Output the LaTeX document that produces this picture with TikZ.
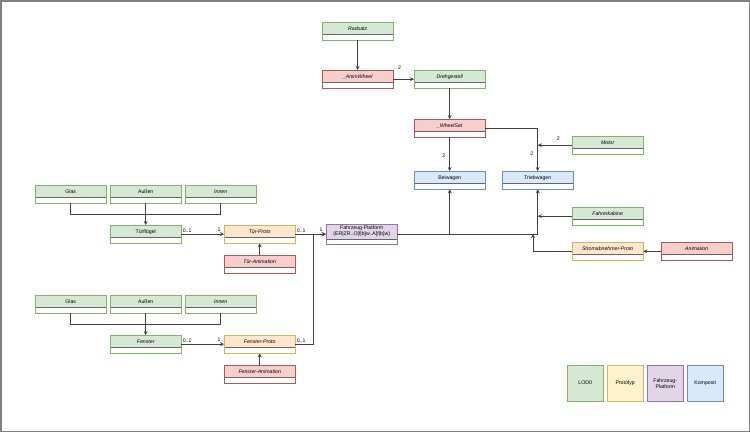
\documentclass[tikz,border=0pt]{standalone}
\usepackage{fontspec}
\setmainfont{Liberation Sans}
\usetikzlibrary{arrows.meta,positioning}
\definecolor{greenfill}{HTML}{D5E8D4}\definecolor{greenline}{HTML}{82B366}
\definecolor{redfill}{HTML}{F8CECC}\definecolor{redline}{HTML}{B85450}
\definecolor{protofill}{HTML}{FFE6CC}\definecolor{protoline}{HTML}{D6B656}
\definecolor{yellowfill}{HTML}{FFF2CC}\definecolor{yellowline}{HTML}{D6B656}
\definecolor{purplefill}{HTML}{E1D5E7}\definecolor{purpleline}{HTML}{9673A6}
\definecolor{bluefill}{HTML}{DAE8FC}\definecolor{blueline}{HTML}{6C8EBF}
\tikzset{
  cls/.style={draw=#1line, fill=white, anchor=north west, minimum width=71pt,
    inner xsep=0pt, inner ysep=0pt, text height=8pt, text depth=10pt,
    font=\fontsize{5.2}{6}\selectfont,
    path picture={
      \fill[#1fill] (path picture bounding box.north west) rectangle ([yshift=-12pt]path picture bounding box.north east);
      \draw[black!60, line width=1.2pt] ([yshift=-12.6pt]path picture bounding box.north west) -- ([yshift=-12.6pt]path picture bounding box.north east);
    }},
  abstr/.style={cls=#1, font=\fontsize{5.2}{6}\selectfont\itshape},
  platform/.style={draw=purpleline, fill=white, anchor=north west, minimum width=71pt, minimum height=20pt,
    inner sep=0pt,
    path picture={
      \fill[purplefill] (path picture bounding box.north west) rectangle ([yshift=-14.5pt]path picture bounding box.north east);
      \draw[black!60, line width=1.2pt] ([yshift=-15pt]path picture bounding box.north west) -- ([yshift=-15pt]path picture bounding box.north east);
    }},
  platformtext/.style={align=center, yshift=3pt, inner sep=0pt, font=\fontsize{5.2}{5.8}\selectfont},
  legendbox/.style={draw=#1line, fill=#1fill, anchor=north west, minimum width=36pt, minimum height=36pt,
    inner sep=1pt, align=center, font=\fontsize{5.2}{6}\selectfont},
  conn/.style={draw=black!75, line width=0.9pt},
  arr/.style={conn, -{Stealth[length=4pt, width=4pt]}},
  lbl/.style={inner sep=1pt, font=\fontsize{5.2}{6}\selectfont},
  frame/.style={draw=black!50, line width=1.5pt}
}
\begin{document}
\begin{tikzpicture}[x=1pt, y=-1pt]
  \useasboundingbox (0,0) rectangle (750,432);
  \draw[frame] (0.75,0.75) rectangle (749.25,431.25);

  % Radsatz / Drehgestell
  \node[abstr=green] (radsatz) at (322,22) {Radsatz};
  \node[abstr=red] (animwheel) at (322,70) {\_AnimWheel};
  \node[abstr=green] (drehgestell) at (414,70) {Drehgestell};
  \node[abstr=red] (wheelset) at (414,119) {\_WheelSet};
  \node[abstr=green] (motor) at (572,136) {Motor};
  \node[cls=blue] (beiwagen) at (414,171) {Beiwagen};
  \node[cls=blue] (triebwagen) at (502,171) {Triebwagen};
  \node[abstr=green] (fahrerkabine) at (572,207) {Fahrerkabine};
  \node[abstr=proto] (strom) at (572,242) {Stromabnehmer-Proto};
  \node[abstr=red] (animation) at (661,242) {Animation};
  \node[platform, label={[platformtext]center:{Fahrzeug-Platform\\(ER|ZR..O[f|b]w..A[f|b]w)}}] (platform) at (326,224) {};

  % Tuer
  \node[cls=green] (glasT) at (35,185) {Glas};
  \node[cls=green] (aussenT) at (110,185) {Außen};
  \node[abstr=green] (innenT) at (185,185) {Innen};
  \node[cls=green] (tuerfl) at (110,225) {Türflügel};
  \node[abstr=proto] (tuerproto) at (224,225) {Tür-Proto};
  \node[abstr=red] (tueranim) at (224,255) {Tür-Animation};

  % Fenster
  \node[cls=green] (glasF) at (35,295) {Glas};
  \node[cls=green] (aussenF) at (110,295) {Außen};
  \node[abstr=green] (innenF) at (185,295) {Innen};
  \node[abstr=green] (fenster) at (110,335) {Fenster};
  \node[abstr=proto] (fensterproto) at (224,335) {Fenster-Proto};
  \node[abstr=red] (fensteranim) at (224,365) {Fenster-Animation};

  % Legende
  \node[legendbox=green] (lod) at (567,365) {LOD0};
  \node[legendbox=yellow] (prototyp) at (607,365) {Prototyp};
  \node[legendbox=purple] (plat) at (647,365) {Fahrzeug-\\Platform};
  \node[legendbox=blue] (komposit) at (687,365) {Komposit};

  \coordinate (stromjoin) at (533,234);

  \draw[arr] (radsatz.south) -- (animwheel.north);
  \draw[arr] (animwheel.east) -- node[lbl, pos=0.3, above=8pt] {2} (drehgestell.west);
  \draw[arr] (drehgestell.south) -- (wheelset.north);
  \draw[arr] (wheelset.south) -- node[lbl, pos=0.55, left=3pt] {2} (beiwagen.north);
  \draw[arr] (wheelset.east) -| node[lbl, pos=0.8, left=3pt] {2} (triebwagen.north);
  \draw[arr] (motor.west) -- node[lbl, pos=0.4, above=3pt] {2} (motor.west -| triebwagen.north);
  \draw[arr] (fahrerkabine.west) -- (fahrerkabine.west -| triebwagen.south);
  \draw[arr] (platform.east) -| (triebwagen.south);
  \draw[arr] (platform.east -| beiwagen.south) -- (beiwagen.south);
  \draw[arr] (strom.west) -| (stromjoin);
  \draw[arr] (animation.west) -- (strom.east);

  \draw[conn] (glasT.south) -- ++(0,11) -| (innenT.south);
  \draw[arr] (aussenT.south) -- (tuerfl.north);
  \draw[arr] (tuerfl.east) -- node[lbl, pos=0, above right] {0..1} node[lbl, pos=1, above left=1pt and 2pt] {1} (tuerproto.west);
  \draw[arr] (tueranim.north) -- (tuerproto.south);
  \draw[arr] (tuerproto.east) -- node[lbl, pos=0, above right] {0..1} node[lbl, pos=1, above left=1pt and 2pt] {1} (platform.west);

  \draw[conn] (glasF.south) -- ++(0,11) -| (innenF.south);
  \draw[arr] (aussenF.south) -- (fenster.north);
  \draw[arr] (fenster.east) -- node[lbl, pos=0, above right] {0..1} node[lbl, pos=1, above left=1pt and 2pt] {1} (fensterproto.west);
  \draw[arr] (fensteranim.north) -- (fensterproto.south);
  \draw[arr] (fensterproto.east) -- node[lbl, pos=0, above right] {0..1} ++(18,0) |- (platform.west);
\end{tikzpicture}
\end{document}
